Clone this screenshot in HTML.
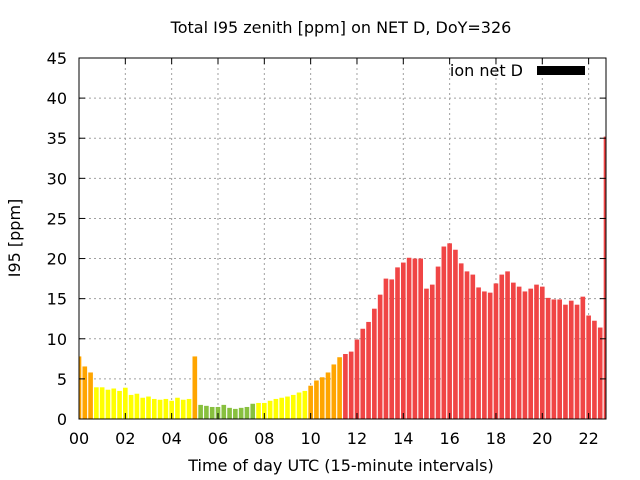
<!DOCTYPE html>
<html><head><meta charset="utf-8"><style>
body{margin:0;background:#fff}
svg{display:block;font-family:"DejaVu Sans","Liberation Sans",sans-serif}
</style></head><body>
<svg id="chart" width="640" height="480" xmlns="http://www.w3.org/2000/svg">
<rect width="640" height="480" fill="#fff"/>
<text x="341" y="33" font-size="16" text-anchor="middle">Total I95 zenith [ppm] on NET D, DoY=326</text>
<g id="grid"></g>
<g id="bars"></g>
<g id="axes"></g>
<text transform="translate(20,238) rotate(-90)" font-size="16" text-anchor="middle">I95 [ppm]</text>
<text x="341" y="471" font-size="16" text-anchor="middle">Time of day UTC (15-minute intervals)</text>
<g>
<text x="523" y="76" font-size="16" text-anchor="end">ion net D</text>
<rect x="537" y="66" width="48" height="9" fill="#000"/>
</g>
</svg>
<script>
const values=[7.8,6.55,5.8,3.95,3.95,3.65,3.8,3.5,3.9,3.0,3.15,2.65,2.8,2.5,2.4,2.5,2.27,2.65,2.4,2.5,
7.8,1.76,1.64,1.5,1.5,1.76,1.39,1.26,1.39,1.5,1.9,2.0,2.0,2.27,2.5,2.65,2.8,3.0,3.3,3.5,
4.15,4.8,5.2,5.8,6.8,7.7,8.1,8.4,9.9,11.25,12.1,13.75,15.5,17.5,17.4,18.9,19.5,20.1,20.0,20.0,
16.25,16.75,19.0,21.5,21.9,21.1,19.4,18.4,18.0,16.4,15.9,15.75,16.9,18.0,18.4,17.0,16.5,15.9,16.25,16.75,
16.5,15.1,14.9,14.9,14.25,14.75,14.25,15.25,12.9,12.25,11.4,35.2];
const yTicks=[0,5,10,15,20,25,30,35,40,45];
const xTickLabels=["00","02","04","06","08","10","12","14","16","18","20","22"];
const xTickHours=[0,2,4,6,8,10,12,14,16,18,20,22];
const L=79,R=606,T=58,B=419,XMAX=22.75,YMAX=45;
const X=h=>L+(h/XMAX)*(R-L);
const Y=v=>B-(v/YMAX)*(B-T);
const NS="http://www.w3.org/2000/svg";
function mk(tag,attrs,parent){const e=document.createElementNS(NS,tag);for(const k in attrs)e.setAttribute(k,attrs[k]);parent.appendChild(e);return e;}
const grid=document.getElementById('grid'),bars=document.getElementById('bars'),axes=document.getElementById('axes');
yTicks.forEach(v=>{
  if(v>0&&v<45){const g=mk('line',{x1:L,x2:R,y1:Y(v),y2:Y(v),stroke:'#a0a0a0','stroke-dasharray':'2,3'},grid);
  
  }
  const t=mk('text',{x:67,y:Y(v)+6,'font-size':16,'text-anchor':'end'},axes);t.textContent=v;
  
  
  mk('line',{x1:L,x2:L+6,y1:Y(v),y2:Y(v),stroke:'#000'},axes);
  mk('line',{x1:R,x2:R-6,y1:Y(v),y2:Y(v),stroke:'#000'},axes);
});
xTickHours.forEach((h,i)=>{
  if(h>0){const g=mk('line',{x1:X(h),x2:X(h),y1:T,y2:B,stroke:'#a0a0a0','stroke-dasharray':'2,3'},grid);
  
  }
  const t=mk('text',{x:X(h),y:444,'font-size':16,'text-anchor':'middle'},axes);t.textContent=xTickLabels[i];
  
  
  mk('line',{x1:X(h),x2:X(h),y1:B,y2:B-6,stroke:'#000'},axes);
  mk('line',{x1:X(h),x2:X(h),y1:T,y2:T+6,stroke:'#000'},axes);
});
function col(v){return v<2?'#88c03f':v<4?'#ffff00':v<8?'#ffa500':'#f04545';}
const pitch=(R-L)/(XMAX*4),bw=pitch*0.8;
values.forEach((v,i)=>{
  let x0=X(i/4)-bw/2,x1=x0+bw;x0=Math.max(x0,L);x1=Math.min(x1,R);
  const r=mk('rect',{x:x0,y:Y(v),width:x1-x0,height:B-Y(v),fill:col(v)},bars);
  
  
});
const f=mk('rect',{x:L,y:T,width:R-L,height:B-T,fill:'none',stroke:'#000','stroke-width':1},axes);


</script>
</body></html>
